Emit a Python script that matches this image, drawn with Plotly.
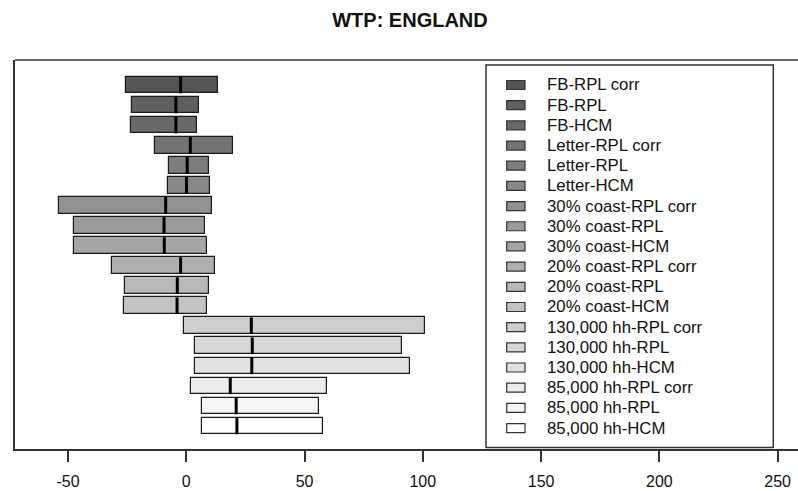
import plotly.graph_objects as go

categories = ["FB-RPL corr", "FB-RPL", "FB-HCM", "Letter-RPL corr", "Letter-RPL", "Letter-HCM",
              "30% coast-RPL corr", "30% coast-RPL", "30% coast-HCM",
              "20% coast-RPL corr", "20% coast-RPL", "20% coast-HCM",
              "130,000 hh-RPL corr", "130,000 hh-RPL", "130,000 hh-HCM",
              "85,000 hh-RPL corr", "85,000 hh-RPL", "85,000 hh-HCM"]
low = [-25.6, -22.9, -23.4, -13.1, -7.2, -7.7, -53.7, -47.5, -47.3,
       -31.5, -25.8, -26.3, -1.0, 3.8, 3.5, 2.0, 6.8, 6.8]
mid = [-2.4, -4.4, -4.4, 1.7, 0.4, 0.1, -8.7, -9.4, -9.3,
       -2.4, -3.8, -3.9, 27.5, 27.9, 27.7, 18.6, 21.1, 21.4]
high = [13.5, 5.4, 4.6, 19.9, 9.6, 10.1, 11.0, 8.0, 8.7,
        12.3, 9.7, 8.7, 101.1, 91.0, 94.4, 59.6, 55.9, 57.9]
tick_vals = [-50, 0, 50, 100, 150, 200, 250]
colors = ["#555555", "#5f5f5f", "#696969", "#737373", "#7d7d7d", "#878787",
          "#919191", "#9b9b9b", "#a5a5a5", "#afafaf", "#b9b9b9", "#c3c3c3",
          "#cdcdcd", "#d7d7d7", "#e1e1e1", "#ebebeb", "#f5f5f5", "#ffffff"]

W, H = 798, 491
PL, PR, PT, PB = 15, 798, 60, 449
ML, MT = PL, PT
MR = W - PR
MB = H - PB

idx = list(range(len(categories)))
BW = 0.83

fig = go.Figure()
fig.add_trace(go.Bar(
    orientation="h", y=idx, base=low,
    x=[h - l for h, l in zip(high, low)],
    width=BW,
    marker=dict(color=colors, line=dict(color="#1a1a1a", width=1.2)),
    showlegend=False, hoverinfo="skip",
))
mx, my = [], []
for i, m in zip(idx, mid):
    mx += [m, m, None]
    my += [i - BW / 2, i + BW / 2, None]
fig.add_trace(go.Scatter(x=mx, y=my, mode="lines",
                         line=dict(color="black", width=3),
                         showlegend=False, hoverinfo="skip"))

def px2x(px):
    return (px - PL) / (PR - PL)

def px2y(py):
    return (PB - py) / (PB - PT)

shapes = []
shapes.append(dict(type="line", xref="paper", yref="paper", x0=0, x1=1, y0=1, y1=1,
                   line=dict(color="#333333", width=1.5)))
shapes.append(dict(type="rect", xref="paper", yref="paper",
                   x0=px2x(486), x1=px2x(773.3), y0=px2y(447.5), y1=px2y(65),
                   line=dict(color="#333333", width=1.5), fillcolor="white"))
annotations = []
for i, (cat, col) in enumerate(zip(categories, colors)):
    cy = 85 + 20.18 * i
    shapes.append(dict(type="rect", xref="paper", yref="paper",
                       x0=px2x(506.7), x1=px2x(525), y0=px2y(cy + 4.5), y1=px2y(cy - 4.5),
                       line=dict(color="#333333", width=1.2), fillcolor=col))
    annotations.append(dict(xref="paper", yref="paper", x=px2x(545), y=px2y(cy),
                            text=cat, showarrow=False, xanchor="left", yanchor="middle",
                            font=dict(family="Liberation Sans, Arial", size=16.8, color="#111111")))

fig.update_layout(
    width=W, height=H,
    margin=dict(l=ML, r=MR, t=MT, b=MB, pad=0),
    paper_bgcolor="white", plot_bgcolor="white",
    title=dict(text="<b>WTP: ENGLAND</b>", x=410 / W, xanchor="center",
               y=1 - 20 / H, yanchor="middle",
               font=dict(family="Liberation Sans, Arial", size=20, color="#111111")),
    xaxis=dict(range=[-72.4, 258.6], tickvals=tick_vals, ticktext=[str(v) for v in tick_vals],
               showgrid=False, zeroline=False, showline=True, linecolor="#333333", linewidth=1.5,
               ticks="outside", ticklen=11, tickwidth=1.5, tickcolor="#333333",
               ticklabelstandoff=6, ticklabeloverflow="allow",
               tickfont=dict(family="Liberation Sans, Arial", size=16, color="#111111")),
    yaxis=dict(range=[18.146, -1.246], showgrid=False, zeroline=False, showticklabels=False,
               showline=True, linecolor="#333333", linewidth=1.5, ticks=""),
    shapes=shapes, annotations=annotations,
    bargap=0,
)
fig.write_html("out.html", config={"displayModeBar": False},
               post_script="document.documentElement.style.overflow='hidden';"
                           "document.body.style.margin='0';document.body.style.overflow='hidden';")
